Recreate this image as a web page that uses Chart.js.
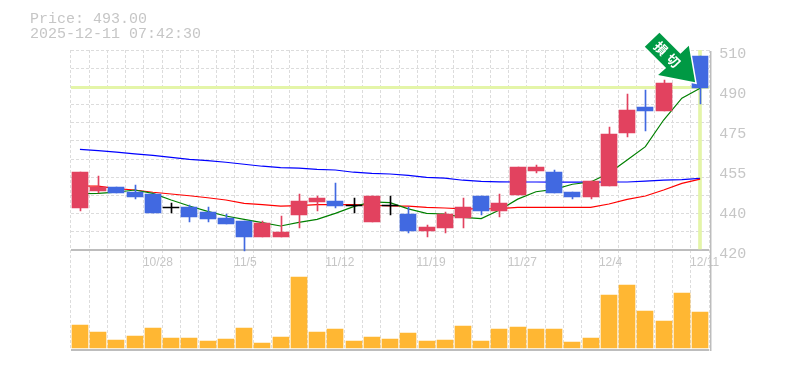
<!DOCTYPE html>
<html><head><meta charset="utf-8">
<style>html,body{margin:0;padding:0;background:#fff}#w{width:785px;height:370px;position:relative}</style>
<script src="https://cdn.jsdelivr.net/npm/chart.js@4"></script>
</head><body><div id="w"><canvas id="c" width="785" height="370"></canvas></div>
<script>
const categories=['10/22','10/23','10/24','10/27','10/28','10/29','10/30','10/31','11/4','11/5','11/6','11/7','11/10','11/11','11/12','11/13','11/14','11/17','11/18','11/19','11/20','11/21','11/25','11/26','11/27','11/28','12/1','12/2','12/3','12/4','12/5','12/8','12/9','12/10','12/11'];
const xTickLabels={4:'10/28',9:'11/5',14:'11/12',19:'11/19',24:'11/27',29:'12/4',34:'12/11'};
const open=[438.9,446.5,448.4,446.1,445.2,439,439.3,437.1,434.4,433,425.9,425.9,435.8,441.6,442,440.2,432.6,440.2,436.2,428.6,429.9,434.4,444.3,437.5,444.8,455.6,455.1,446.1,443.9,448.8,472.7,484.4,482.6,497.4,507.3];
const close=[455.1,448.4,445.6,443.9,436.6,439,434.9,434,431.7,425.9,432.2,428.1,442,443.4,439.8,440.2,444.3,440.2,428.6,430.4,436.2,439.4,437.5,441.2,457.4,457.4,445.6,443.9,451.1,472.2,483,482.6,495.2,506.4,493];
const high=[455.1,453.3,448.4,449.2,445.2,441.2,440.2,439.4,436.2,433,433,435.3,445.2,444.3,450.2,443.4,444.3,444.3,439.4,431.3,437.1,443.4,444.3,445.2,457.4,458.3,456,446.1,451.1,475.4,490.2,492,496.5,506.4,507.3];
const low=[437.5,445.5,445.6,443,436.6,436.6,432.6,432.6,431.7,419.6,425.9,425.9,429.9,437.5,438.9,436.7,432.6,435.8,427.6,425.9,427.6,429.9,435.8,434.9,444.8,454.7,445.6,443,443,448.8,470.9,473.6,482.6,497.4,485.7];
const maShort=[445.4,445.5,446,447,445.5,442.5,439.8,437.4,435.3,433.8,432.3,430.8,432.4,433.8,436.5,439.5,441.7,441.3,438.5,436.5,436.2,434.7,434.1,438,442.9,446.2,447.3,449.6,450.6,454.5,460.5,466.5,478.5,488.3,492.8];
const maMid=[448.8,448.7,447.6,447,446,445.2,444.4,443.5,442.5,441,440.4,439.7,440,440.4,440.4,440.4,440.2,439.8,439.7,439.2,438.9,438.5,438.5,438.6,439.2,439.2,439.2,439.2,439.2,440.7,442.8,444.3,447,450,451.9];
const maLong=[465.3,464.7,464,463.3,462.6,461.7,460.8,460.2,459.5,458.6,457.7,457.1,456.8,456.3,456,455,454.5,454.2,453.6,452.7,452.3,451.4,450.9,450.7,450.6,450.6,450.5,450.5,450.5,450.6,450.6,451,451.4,451.7,452.2];
const volume=[23,16,8,12,20,10,10,7,9,20,5,11,71,16,19,7,11,9,15,7,8,22,7,19,21,19,19,6,10,53,63,37,27,55,36];
const currentPrice=493;
const infoLines=['Price: 493.00','2025-12-11 07:42:30'];
const arrowText=['損','切'];
const gridValues=[510,501.8,493.6,485.5,477.3,469.1,460.9,452.7,444.5,436.4,428.2,420,375];
const priceTickValues=[510,492,474,456,438,420];
const priceTickLabels=['510','490','475','455','440','420'];

const UP='#e2425f',DOWN='#4169e1',DOJI='#000000',GRID='#dcdcdc',AXIS='#bdbdbd',TXT='#c6c6c6',GUIDE='#e4f5a8';
const isDoji=i=>open[i]===close[i];
const col=i=>isDoji(i)?DOJI:(close[i]>open[i]?UP:DOWN);
const bodies=categories.map((_,i)=>isDoji(i)?[open[i]-0.2,open[i]+0.25]:[open[i],close[i]]);
const wicks=categories.map((_,i)=>[low[i],high[i]]);
const guide=categories.map((_,i)=>i===categories.length-1?[420.5,510]:null);
const line=(data,color,order)=>({type:'line',data,borderColor:color,borderWidth:1.2,pointRadius:0,tension:0,order,yAxisID:'y',fill:false});

const snap={id:'snap',afterDatasetsUpdate(ch){
  ch.data.datasets.forEach((d,di)=>{
    if(d.type==='line')return;
    ch.getDatasetMeta(di).data.forEach(el=>{
      el.x=Math.round(el.x)+(d.barThickness===1?0.5:0);
      if(el.y!=null)el.y=Math.round(el.y);
      if(el.base!=null)el.base=Math.round(el.base);
      if(Math.abs(el.base-el.y)<1)el.base=el.y+1;
    });
  });
}};
const overlay={id:'overlay',afterDraw(ch){
  const g=ch.ctx,xs=ch.scales.x,ys=ch.scales.y,a=ch.chartArea;
  g.save();
  g.strokeStyle=AXIS;g.lineWidth=1.5;g.beginPath();g.moveTo(a.right+1.5,a.top+1);g.lineTo(a.right+1.5,a.bottom+1);g.stroke();
  g.fillStyle=TXT;g.font='15px "Liberation Mono"';g.textAlign='left';g.textBaseline='alphabetic';
  infoLines.forEach((t,i)=>g.fillText(t,30,23+i*15));
  const tx=xs.getPixelForValue(categories.length-1)-5,ty=ys.getPixelForValue(currentPrice)-5.5;
  g.translate(tx,ty);
  const P=[[-35.7,-49.6],[-14.7,-28.6],[-6.3,-36.6],[0,0],[-37,-7.3],[-29,-14.3],[-50.3,-35.6]];
  g.beginPath();P.forEach((p,i)=>i?g.lineTo(p[0],p[1]):g.moveTo(p[0],p[1]));g.closePath();
  g.lineJoin='miter';g.lineWidth=3;g.strokeStyle='#fff';g.stroke();
  g.fillStyle='#009944';g.fill();
  g.fillStyle='#fff';g.font='bold 13px "Noto Sans CJK JP"';g.textAlign='center';g.textBaseline='middle';
  [[-34.3,-34],[-21.7,-21.6]].forEach((p,i)=>{g.save();g.translate(p[0],p[1]);g.rotate(Math.PI/4);g.fillText(arrowText[i],0,0);g.restore();});
  g.restore();
}};
new Chart(document.getElementById('c'),{
  data:{labels:categories,datasets:[
    {type:'bar',data:volume,yAxisID:'yVol',backgroundColor:'#ffb733',barThickness:16,grouped:false,order:6},
    {type:'bar',data:guide,yAxisID:'y',backgroundColor:GUIDE,barThickness:3,grouped:false,order:5},
    line(maLong,'#0000ff',4),line(maMid,'#ff0000',3),line(maShort,'#008000',2),
    {type:'bar',data:wicks,yAxisID:'y',backgroundColor:categories.map((_,i)=>col(i)),barThickness:1,grouped:false,order:1},
    {type:'bar',data:bodies,yAxisID:'y',backgroundColor:categories.map((_,i)=>col(i)),barThickness:16,grouped:false,order:0}
  ]},
  options:{
    responsive:false,animation:false,events:[],
    layout:{padding:{top:50,bottom:20,left:0,right:0}},
    plugins:{legend:{display:false},title:{display:false},tooltip:{enabled:false}},
    scales:{
      x:{type:'category',position:{y:420},offset:true,
        grid:{offset:true,color:GRID,lineWidth:1,drawTicks:false},
        border:{display:false,dash:[3,2]},
        ticks:{autoSkip:false,maxRotation:0,minRotation:0,align:'start',labelOffset:-10,padding:5,color:TXT,font:{family:'"Liberation Sans"',size:12},
          callback:(v,i)=>xTickLabels[i]||''}},
      y:{position:'left',min:375,max:510,
        afterFit:s=>{s.width=70.83},
        afterBuildTicks:s=>{s.ticks=gridValues.map(v=>({value:v})).concat([{value:currentPrice}])},
        ticks:{display:false},
        border:{display:false,dash:c=>(c.tick&&(c.tick.value===420||c.tick.value===375||c.tick.value===currentPrice))?[]:[3,2]},
        grid:{drawTicks:false,
          color:c=>c.tick.value===currentPrice?GUIDE:((c.tick.value===420||c.tick.value===375)?AXIS:GRID),
          lineWidth:c=>c.tick.value===currentPrice?3:((c.tick.value===420||c.tick.value===375)?2:1)}},
      y2:{position:'right',min:375,max:510,
        afterFit:s=>{s.width=75.77},
        afterBuildTicks:s=>{s.ticks=priceTickValues.map(v=>({value:v}))},
        grid:{display:false,drawTicks:false},
        border:{display:false},
        ticks:{autoSkip:false,padding:10,labelOffset:4,color:TXT,font:{family:'"Liberation Mono"',size:15},
          callback:(v,i)=>priceTickLabels[i]}},
      yVol:{display:false,min:-2,max:298}
    }
  },
  plugins:[snap,overlay]
});
</script></body></html>
